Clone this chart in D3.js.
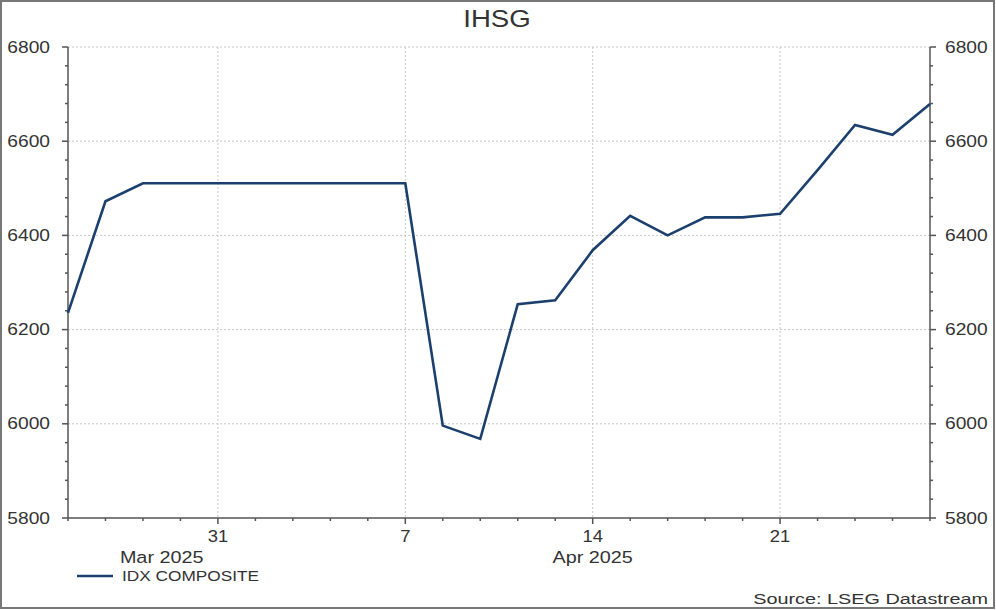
<!DOCTYPE html>
<html><head><meta charset="utf-8">
<script src="https://cdn.jsdelivr.net/npm/d3@7"></script>
<style>html,body{margin:0;padding:0;background:#fff;}svg{display:block;font-family:"Liberation Sans",Arial,sans-serif;}</style>
</head><body>
<svg id="c" width="996" height="610"></svg>
<script>
const dates = ["2025-03-25","2025-03-26","2025-03-27","2025-03-28","2025-03-31","2025-04-01","2025-04-02","2025-04-03","2025-04-04","2025-04-07","2025-04-08","2025-04-09","2025-04-10","2025-04-11","2025-04-14","2025-04-15","2025-04-16","2025-04-17","2025-04-18","2025-04-21","2025-04-22","2025-04-23","2025-04-24","2025-04-25"];
const values = [6235.6,6472.4,6510.6,6510.6,6510.6,6510.6,6510.6,6510.6,6510.6,6510.6,5996.1,5967.9,6254.0,6262.2,6368.5,6441.7,6400.1,6438.3,6438.3,6446.0,6538.5,6634.4,6613.5,6678.9];
const yTicks = [5800,6000,6200,6400,6600,6800];
const xTickLabels = [{date:"2025-03-31",label:"31"},{date:"2025-04-07",label:"7"},{date:"2025-04-14",label:"14"},{date:"2025-04-21",label:"21"}];
const months = [{label:"Mar 2025",from:"2025-03-25",to:"2025-04-01"},{label:"Apr 2025",from:"2025-04-01",to:"2025-04-25"}];
const seriesName = "IDX COMPOSITE";

const svg = d3.select("#c");
const W=996,H=610;
const L=68,R=930,T=47,B=518;
const idx = d3.scaleLinear().domain([0,dates.length-1]).range([L,R]);
const x = d => idx(dates.indexOf(d));
const y = d3.scaleLinear().domain([5800,6800]).range([B,T]);
const axisCol="#555", txtCol="#333";

function txt(px, py, s, size, anchor, sx){
  svg.append("text").attr("transform",`translate(${px},${py}) scale(${sx},1)`)
    .attr("text-anchor",anchor).attr("font-size",size).attr("fill",txtCol).text(s);
}

svg.append("rect").attr("x",1).attr("y",1).attr("width",W-3).attr("height",H-3).attr("fill","#fff").attr("stroke","#777").attr("stroke-width",2);

// gridlines
const grid = svg.append("g").attr("stroke","#c8c8c8").attr("stroke-width",1).attr("stroke-dasharray","2,2");
yTicks.forEach(v=>{ if(v>5800) grid.append("line").attr("x1",L).attr("x2",R).attr("y1",y(v)).attr("y2",y(v)); });
xTickLabels.forEach(t=>grid.append("line").attr("x1",x(t.date)).attr("x2",x(t.date)).attr("y1",T).attr("y2",B));

// axes
const minor = d3.range(5800,6801,40);
const ax = svg.append("g").attr("stroke",axisCol).attr("stroke-width",1.5);
ax.append("line").attr("x1",L).attr("x2",L).attr("y1",T).attr("y2",B);
ax.append("line").attr("x1",R).attr("x2",R).attr("y1",T).attr("y2",B);
ax.append("line").attr("x1",L).attr("x2",R).attr("y1",B).attr("y2",B);
minor.forEach(v=>{
  const major = yTicks.includes(v);
  ax.append("line").attr("x1",L-(major?6:3)).attr("x2",L).attr("y1",y(v)).attr("y2",y(v));
  ax.append("line").attr("x1",R).attr("x2",R+(major?6:3)).attr("y1",y(v)).attr("y2",y(v));
});
dates.forEach(d=>{
  const major = xTickLabels.some(t=>t.date===d);
  ax.append("line").attr("x1",x(d)).attr("x2",x(d)).attr("y1",B).attr("y2",B+(major?6:3));
});

yTicks.forEach(v=>{
  txt(50, y(v)+5.5, v, 16, "end", 1.2);
  txt(945, y(v)+5.5, v, 16, "start", 1.2);
});
xTickLabels.forEach(t=>txt(x(t.date), 542, t.label, 16, "middle", 1.15));
months.forEach(m=>txt((x(m.from)+x(m.to))/2, 563, m.label, 16.5, "middle", 1.2));

// line
const line = d3.line().x((d,i)=>idx(i)).y(d=>y(d));
svg.append("path").datum(values).attr("d",line).attr("fill","none").attr("stroke","#1c406e").attr("stroke-width",2.6).attr("stroke-linejoin","miter");

// title
txt(497, 27, "IHSG", 24, "middle", 1.15);

// legend
svg.append("line").attr("x1",77).attr("x2",113).attr("y1",576).attr("y2",576).attr("stroke","#1c406e").attr("stroke-width",2.6);
txt(122, 581, seriesName, 15, "start", 1.15);

txt(988, 604, "Source: LSEG Datastream", 15.5, "end", 1.28);
</script>
</body></html>
